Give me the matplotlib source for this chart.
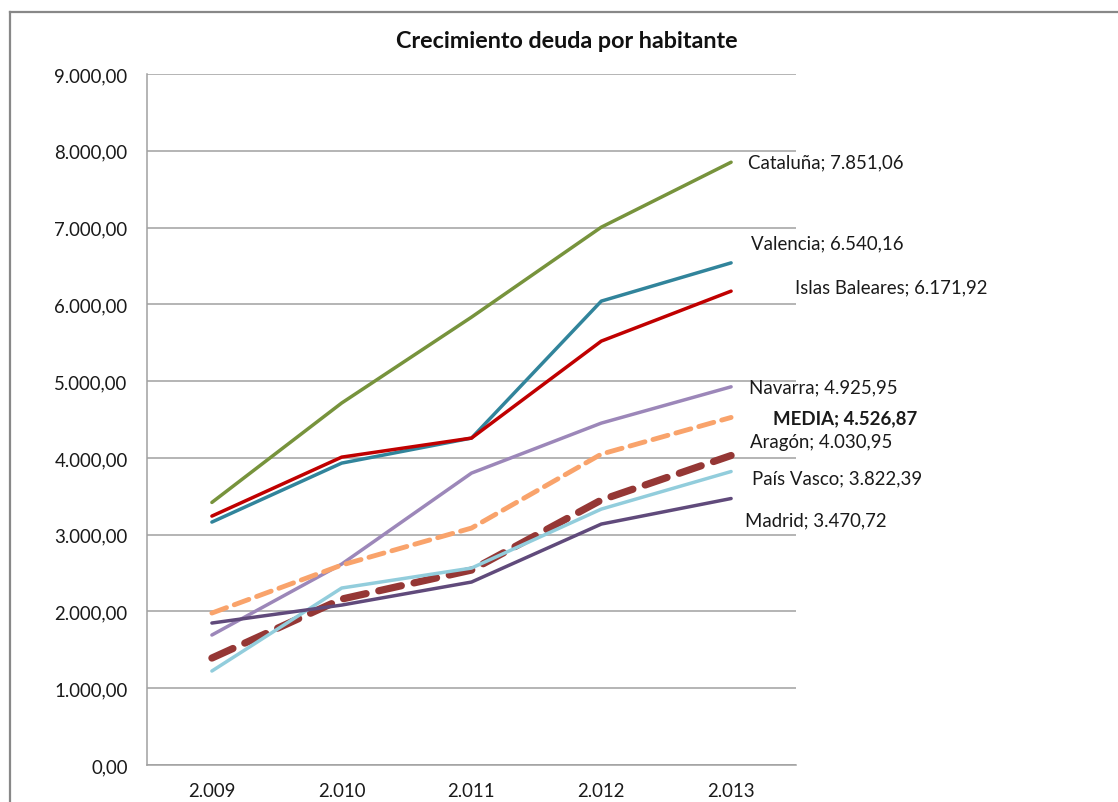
import matplotlib.pyplot as plt
from matplotlib.lines import Line2D

plt.rcParams['font.family'] = ['Lato', 'DejaVu Sans']

years = ['2.009', '2.010', '2.011', '2.012', '2.013']

cataluna = [3420, 4715, 5833, 7005, 7851.06]
valencia = [3164, 3932, 4258, 6042, 6540.16]
baleares = [3242, 4010, 4258, 5521, 6171.92]
navarra = [1693, 2617, 3802, 4453, 4925.95]
media = [1979, 2604, 3086, 4049, 4526.87]
aragon = [1393, 2161, 2539, 3451, 4030.95]
pais_vasco = [1224, 2305, 2565, 3333, 3822.39]
madrid = [1849, 2083, 2383, 3138, 3470.72]

y_ticks = [0, 1000, 2000, 3000, 4000, 5000, 6000, 7000, 8000, 9000]


def es_num(v):
    # 1234.5 -> 1.234,50
    s = '{:,.2f}'.format(v)
    return s.replace(',', 'X').replace('.', ',').replace('X', '.')


fig = plt.figure(figsize=(11.18, 8.03), dpi=100)
ax = fig.add_axes([147 / 1118, 1 - 766 / 803, 649 / 1118, 691 / 803])

x = range(len(years))
series = [
    # name, values, color, width, dashes, label offset (px), bold
    ('Cataluña', cataluna, '#77933C', 2.5, None, (17, 0), False),
    ('Valencia', valencia, '#31849B', 2.5, None, (20, 20), False),
    ('Islas Baleares', baleares, '#C00000', 2.5, None, (64, 4), False),
    ('Navarra', navarra, '#9C87B9', 2.5, None, (18, 0), False),
    ('MEDIA', media, '#F9A36B', 3.5, (3.2, 1.7), (42, 0), True),
    ('Aragón', aragon, '#953735', 5.2, (3.2, 1.8), (19, 14), False),
    ('País Vasco', pais_vasco, '#92CDDC', 2.5, None, (21, -6), False),
    ('Madrid', madrid, '#604A7B', 2.5, None, (14, -21), False),
]

for name, vals, col, lw, dash, off, bold in series:
    ln, = ax.plot(x, vals, color=col, linewidth=lw, solid_capstyle='round')
    if dash is not None:
        ln.set_dashes(dash)
        ln.set_dash_capstyle('round')
    ax.annotate(name + '; ' + es_num(vals[-1]), xy=(4, vals[-1]), xytext=off,
                textcoords='offset pixels', ha='left', va='center',
                fontsize=13.4, color='#1a1a1a', annotation_clip=False,
                fontweight='bold' if bold else 'normal')

ax.set_xlim(-0.5, 4.5)
ax.set_ylim(0, 9000)
ax.set_xticks(list(x))
ax.set_xticklabels(years)
ax.set_yticks(y_ticks)
ax.set_yticklabels([es_num(v) for v in y_ticks])
ax.tick_params(length=0, labelsize=13.4, colors='#1a1a1a')
ax.tick_params(axis='y', pad=14)
ax.tick_params(axis='x', pad=12)

ax.grid(axis='y', color='#A0A0A0', linewidth=1.1)
ax.set_axisbelow(True)
for s in ['top', 'right']:
    ax.spines[s].set_visible(False)
for s in ['left', 'bottom']:
    ax.spines[s].set_color('#A0A0A0')
    ax.spines[s].set_linewidth(1.1)

fig.text(567 / 1118, 1 - 42 / 803, 'Crecimiento deuda por habitante',
         ha='center', va='center', fontsize=16.8, fontweight='bold', color='#111111')

# outer chart frame (only left and top edges visible)
fig.add_artist(Line2D([10 / 1118, 10 / 1118], [0, 1 - 13 / 803],
                      transform=fig.transFigure, color='#888888', linewidth=1.6))
fig.add_artist(Line2D([10 / 1118, 1], [1 - 13 / 803, 1 - 13 / 803],
                      transform=fig.transFigure, color='#888888', linewidth=1.6))

fig.savefig('out.png', dpi=100)
